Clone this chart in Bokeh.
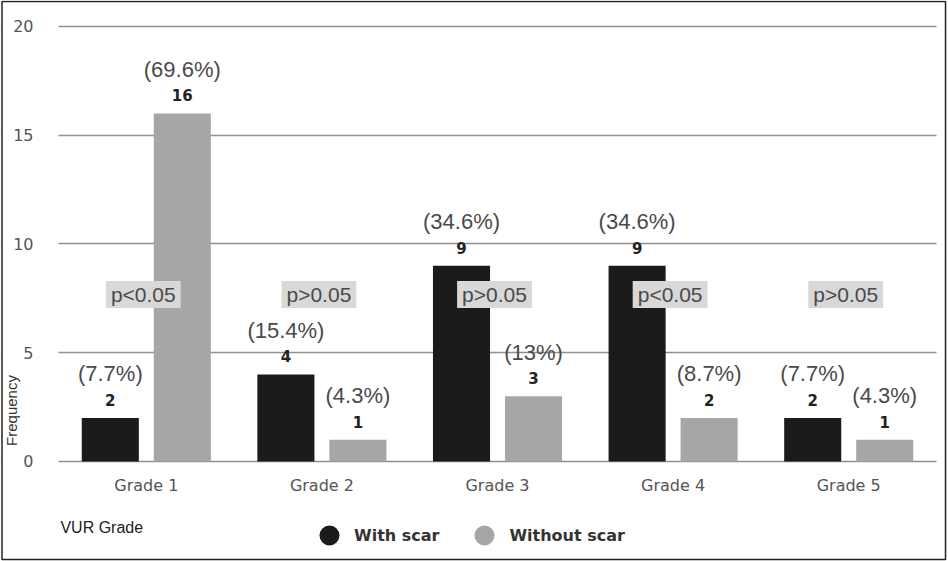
from bokeh.plotting import figure
from bokeh.models import (Range1d, Legend, LegendItem, Label, BoxAnnotation,
                          ColumnDataSource, FixedTicker)
from bokeh.transform import dodge
from bokeh.embed import file_html
from bokeh.resources import INLINE
from bokeh.core.properties import value

# ---- data ----
grades = ["Grade 1", "Grade 2", "Grade 3", "Grade 4", "Grade 5"]
with_scar = [2, 4, 9, 9, 2]
without_scar = [16, 1, 3, 2, 1]
with_pct = ["(7.7%)", "(15.4%)", "(34.6%)", "(34.6%)", "(7.7%)"]
without_pct = ["(69.6%)", "(4.3%)", "(13%)", "(8.7%)", "(4.3%)"]
p_values = ["p<0.05", "p>0.05", "p>0.05", "p<0.05", "p>0.05"]
y_ticks = [0, 5, 10, 15, 20]
series_names = ["With scar", "Without scar"]

BLACK = "#1c1a1b"
GREY = "#a6a6a8"

# category slots 0..5, each grade centred in its slot
centers = [i + 0.5 for i in range(len(grades))]

src = ColumnDataSource(dict(
    xc=centers,
    with_scar=with_scar,
    without_scar=without_scar,
    with_pct=with_pct,
    without_pct=without_pct,
    with_cnt=[str(v) for v in with_scar],
    without_cnt=[str(v) for v in without_scar],
    pval=p_values,
))

W, H = 948, 561
X0, X1 = -0.3303, 5.0683
Y0, Y1 = -4.598, 21.195
# frame covers the whole canvas; axes are pinned inside it
p = figure(width=W, height=H,
           x_range=Range1d(X0, X1), y_range=Range1d(Y0, Y1),
           output_backend="svg", toolbar_location=None,
           min_border_left=0, min_border_right=0,
           min_border_top=0, min_border_bottom=0)
p.outline_line_color = None
p.background_fill_color = "white"
p.border_fill_color = "white"

# axes
p.xaxis.fixed_location = 0
p.yaxis.fixed_location = 0
p.xaxis.ticker = FixedTicker(ticks=centers)
p.xaxis.major_label_overrides = {c: g for c, g in zip(centers, grades)}
p.yaxis.ticker = FixedTicker(ticks=y_ticks)
p.ygrid.ticker = FixedTicker(ticks=y_ticks)
for ax in (p.xaxis[0], p.yaxis[0]):
    ax.axis_line_color = None
    ax.major_tick_line_color = None
    ax.minor_tick_line_color = None
    ax.major_tick_out = 0
    ax.major_tick_in = 0
    ax.minor_tick_out = 0
    ax.major_label_text_font = "DejaVu Sans"
    ax.major_label_text_font_size = "16px"
    ax.major_label_text_color = "#555555"
p.yaxis.major_label_standoff = 25
p.xaxis.major_label_standoff = 15
p.xgrid.grid_line_color = None
p.ygrid.grid_line_color = "#8f8f8f"
p.ygrid.grid_line_width = 1.5

# keep grid lines only across the category slots
p.add_layout(BoxAnnotation(left=X0, right=0, bottom=-0.5, top=20.5,
                           fill_color="white", fill_alpha=1,
                           line_color=None, level="underlay"))
p.add_layout(BoxAnnotation(left=len(grades), right=X1, bottom=-0.5, top=20.5,
                           fill_color="white", fill_alpha=1,
                           line_color=None, level="underlay"))

# bars
p.vbar(x=dodge("xc", -0.205), top="with_scar", width=0.325, source=src,
       fill_color=BLACK, line_color=None)
p.vbar(x=dodge("xc", 0.205), top="without_scar", width=0.325, source=src,
       fill_color=GREY, line_color=None)

pct_kw = dict(text_font=value("Liberation Sans"), text_font_size="22px",
              text_color="#4a4a4a", text_align="center", text_baseline="middle",
              y_offset=-44)
cnt_kw = dict(text_font=value("DejaVu Sans"), text_font_size="15px",
              text_font_style="bold", text_color="#222222", text_align="center",
              text_baseline="middle", y_offset=-18)

p.text(x=dodge("xc", -0.205), y="with_scar", text="with_pct", source=src, **pct_kw)
p.text(x=dodge("xc", 0.205), y="without_scar", text="without_pct", source=src, **pct_kw)
p.text(x=dodge("xc", -0.205), y="with_scar", text="with_cnt", source=src, **cnt_kw)
p.text(x=dodge("xc", 0.205), y="without_scar", text="without_cnt", source=src, **cnt_kw)

# p-value boxes
p.text(x="xc", y=7.68, text="pval", source=src, x_offset=-3,
       text_font=value("Liberation Sans"), text_font_size="21px",
       text_color="#4a4a4a", text_align="center", text_baseline="middle",
       background_fill_color="#d8d8d8",
       padding=dict(left=5, right=5, top=2, bottom=2))

# axis captions
p.add_layout(Label(x=0.011, y=-3.03, text="VUR Grade", text_font="Liberation Sans",
                   text_font_size="16px", text_color="#222222",
                   text_align="left", text_baseline="middle"))
p.add_layout(Label(x=-0.268, y=2.345, text="Frequency", text_font="Liberation Sans",
                   text_font_size="15px", text_color="#333333", angle=1.5708,
                   text_align="center", text_baseline="middle"))

# legend with circle markers (marker renderers carry no visible point)
nan = float("nan")
m1 = p.scatter(x=[nan], y=[nan], marker="circle", fill_color=BLACK, line_color=None)
m2 = p.scatter(x=[nan], y=[nan], marker="circle", fill_color=GREY, line_color=None)
legend = Legend(items=[LegendItem(label=series_names[0], renderers=[m1]),
                       LegendItem(label=series_names[1], renderers=[m2])],
                orientation="horizontal", location=(304, 1),
                glyph_width=50, glyph_height=50, label_standoff=0, spacing=20,
                padding=0, margin=0, border_line_color=None,
                background_fill_alpha=0,
                label_text_font="DejaVu Sans", label_text_font_size="16px",
                label_text_font_style="bold", label_text_color="#333333")
p.add_layout(legend)

# outer frame of the figure
p.add_layout(BoxAnnotation(left=-0.3218, right=5.0513, top=21.149, bottom=-4.506,
                           fill_alpha=0, line_color="#222222", line_alpha=1,
                           line_width=1.5, level="annotation"))

open("out.html", "w").write(file_html(p, INLINE))
